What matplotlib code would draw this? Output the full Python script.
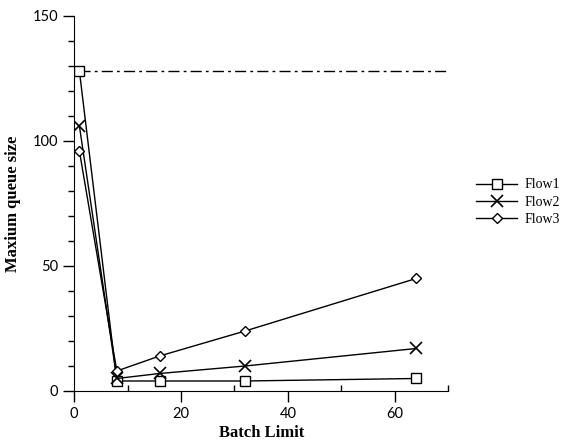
import matplotlib.pyplot as plt
from matplotlib.ticker import MultipleLocator

plt.rcParams['font.family'] = ['Liberation Serif', 'DejaVu Serif']

batch = [1, 8, 16, 32, 64]
flow_sq = [128, 4, 4, 4, 5]
flow_x = [106, 5, 7, 10, 17]
flow_dm = [96, 8, 14, 24, 45]
limit = 128
labels = ['Flow1', 'Flow2', 'Flow3']

fig = plt.figure(figsize=(5.61, 4.43), dpi=100)
ax = fig.add_axes([0.132, 0.1174, 0.667, 0.8465])

mk = dict(color='black', lw=1.0, markerfacecolor='white', markeredgecolor='black')
ax.plot(batch, flow_sq, marker='s', markersize=7, label=labels[0], **mk)
ax.plot(batch, flow_x, marker='x', markersize=8, markeredgewidth=1.2, label=labels[1], **mk)
ax.plot(batch, flow_dm, marker='D', markersize=5.5, label=labels[2], **mk)
ax.plot([1, 70], [limit, limit], color='black', lw=1.0, linestyle=(0, (8, 3, 2, 3)), zorder=1)

ax.set_xlim(0, 70)
ax.set_ylim(0, 150)
ax.xaxis.set_major_locator(MultipleLocator(20))
ax.xaxis.set_minor_locator(MultipleLocator(10))
ax.yaxis.set_major_locator(MultipleLocator(50))
ax.yaxis.set_minor_locator(MultipleLocator(10))
ax.tick_params(axis='both', which='major', length=8, width=1, labelsize=10.5, direction='out')
ax.tick_params(axis='x', which='minor', length=4, width=1, direction='in')
ax.tick_params(axis='y', which='minor', length=4, width=1, direction='out')
for lbl in ax.get_xticklabels() + ax.get_yticklabels():
    lbl.set_family(['Lato', 'DejaVu Sans'])

for s in ['top', 'right']:
    ax.spines[s].set_visible(False)
ax.spines['left'].set_bounds(0, 150)

ax.set_xlabel('Batch Limit', fontsize=12, fontweight='bold', labelpad=3)
ax.set_ylabel('Maxium queue size', fontsize=12, fontweight='bold', labelpad=8)

leg = ax.legend(loc='upper left', bbox_to_anchor=(1.04, 0.6), frameon=False,
                fontsize=10, handlelength=3, handletextpad=0.5, labelspacing=0.3)

fig.savefig('out.png', dpi=100)
